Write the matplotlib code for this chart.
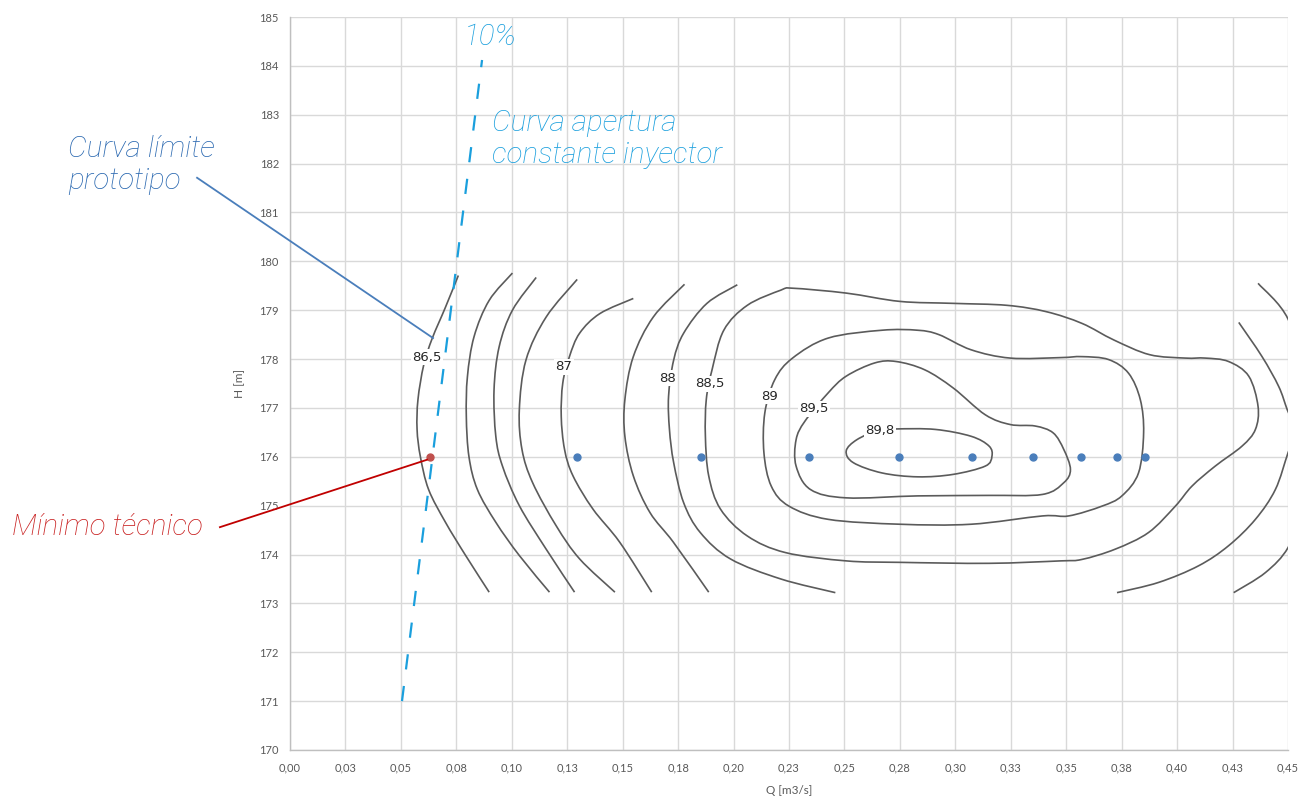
import matplotlib
matplotlib.use("Agg")
import matplotlib.pyplot as plt
from matplotlib.path import Path
from matplotlib.patches import PathPatch
import numpy as np

# ---------------- data ----------------
x_ticks = [0.0, 0.025, 0.05, 0.075, 0.10, 0.125, 0.15, 0.175, 0.20, 0.225, 0.25,
           0.275, 0.30, 0.325, 0.35, 0.375, 0.40, 0.425, 0.45]
x_tick_labels = ["0,00", "0,03", "0,05", "0,08", "0,10", "0,13", "0,15", "0,18", "0,20",
                 "0,23", "0,25", "0,28", "0,30", "0,33", "0,35", "0,38", "0,40", "0,43", "0,45"]
y_ticks = list(range(170, 186))

# measured operating points (H = 176 m)
q_points = [0.1294, 0.1855, 0.2340, 0.2745, 0.3074, 0.3349, 0.3565, 0.3727, 0.3853]
h_points = [176] * len(q_points)
q_min_tec = [0.0631]
h_min_tec = [176]

# constant injector opening curve (10 %)
q_apertura = [0.0505, 0.0866]
h_apertura = [171.0, 184.12]

# efficiency contour lines (Q, H)
c865_q = [0.0759, 0.0700, 0.0641, 0.0603, 0.0577, 0.0573, 0.0588, 0.0625, 0.0701, 0.0792, 0.0898]
c865_h = [179.71, 179.05, 178.42, 177.88, 177.17, 176.56, 176.00, 175.33, 174.66, 173.98, 173.23]

c2_q = [0.1003, 0.0898, 0.0830, 0.0800, 0.0795, 0.0807, 0.0845, 0.0928, 0.1034, 0.1170]
c2_h = [179.76, 179.20, 178.46, 177.64, 176.83, 176.00, 175.33, 174.66, 173.98, 173.23]

c3_q = [0.1110, 0.1003, 0.0943, 0.0920, 0.0928, 0.0958, 0.1034, 0.1155, 0.1283]
c3_h = [179.67, 179.00, 178.25, 177.37, 176.42, 175.81, 175.00, 174.11, 173.23]

c4_q = [0.1295, 0.1155, 0.1064, 0.1034, 0.1046, 0.1094, 0.1200, 0.1306, 0.1465]
c4_h = [179.63, 178.86, 177.98, 176.96, 176.15, 175.47, 174.59, 173.91, 173.23]

c87_q = [0.1548, 0.1397, 0.1306, 0.1260, 0.1230, 0.1223, 0.1238, 0.1276, 0.1366, 0.1487, 0.1631]
c87_h = [179.24, 178.93, 178.53, 178.05, 177.51, 176.83, 176.15, 175.61, 174.93, 174.25, 173.23]

c6_q = [0.1779, 0.1638, 0.1548, 0.1510, 0.1510, 0.1548, 0.1623, 0.1729, 0.1888]
c6_h = [179.53, 178.86, 178.05, 177.17, 176.42, 175.61, 174.86, 174.25, 173.23]

c88_q = [0.2017, 0.1880, 0.1775, 0.1730, 0.1707, 0.1711, 0.1730, 0.1775, 0.1850, 0.1986, 0.2213, 0.2459]
c88_h = [179.52, 179.14, 178.53, 177.98, 177.24, 176.56, 175.88, 175.06, 174.45, 173.91, 173.50, 173.22]

c88r_q = [0.4278, 0.4383, 0.4458, 0.4496, 0.4535, 0.4500, 0.4443, 0.4353, 0.4232, 0.4097, 0.3917, 0.3729]
c88r_h = [178.75, 178.05, 177.44, 176.97, 176.50, 176.08, 175.33, 174.72, 174.18, 173.77, 173.43, 173.22]

c87r_q = [0.4365, 0.4500, 0.4580, 0.4600, 0.4560, 0.4500, 0.4398, 0.4255]
c87r_h = [179.55, 178.82, 177.50, 176.00, 174.90, 174.14, 173.63, 173.22]

c885_q = [0.1903, 0.1956, 0.2062, 0.2213, 0.2266, 0.2508, 0.2750, 0.2990, 0.3232, 0.3410, 0.3571,
          0.3715, 0.3876, 0.4037, 0.4127, 0.4232, 0.4323, 0.4365, 0.4353, 0.4293, 0.4172, 0.4067,
          0.3992, 0.3871, 0.3721, 0.3571, 0.3474, 0.3152, 0.2750, 0.2508, 0.2234, 0.2062, 0.1941,
          0.1888, 0.1873, 0.1877]
c885_h = [177.78, 178.59, 179.10, 179.41, 179.45, 179.35, 179.18, 179.14, 179.10, 178.97, 178.73,
          178.39, 178.09, 178.02, 178.02, 177.95, 177.65, 177.03, 176.56, 176.22, 175.81, 175.40,
          174.99, 174.45, 174.11, 173.90, 173.87, 173.82, 173.84, 173.87, 174.04, 174.38, 174.93,
          175.61, 176.42, 177.17]

c89_q = [0.2186, 0.2266, 0.2427, 0.2669, 0.2830, 0.2926, 0.3071, 0.3248, 0.3474, 0.3571, 0.3691,
         0.3781, 0.3834, 0.3849, 0.3826, 0.3751, 0.3661, 0.3511, 0.3393, 0.3071, 0.2750, 0.2427,
         0.2250, 0.2170, 0.2137, 0.2141]
c89_h = [177.58, 178.02, 178.43, 178.59, 178.59, 178.50, 178.19, 178.02, 178.03, 178.05, 177.99,
         177.71, 177.17, 176.49, 175.67, 175.20, 174.99, 174.79, 174.79, 174.62, 174.62, 174.72,
         174.99, 175.40, 176.08, 176.90]

c895_q = [0.2427, 0.2508, 0.2636, 0.2733, 0.2862, 0.2990, 0.3135, 0.3248, 0.3360, 0.3441, 0.3489,
          0.3519, 0.3489, 0.3393, 0.3152, 0.2830, 0.2508, 0.2347, 0.2282, 0.2282, 0.2322]
c895_h = [177.31, 177.65, 177.92, 177.95, 177.78, 177.41, 176.86, 176.66, 176.63, 176.49, 176.15,
          175.74, 175.47, 175.23, 175.21, 175.20, 175.16, 175.33, 175.81, 176.35, 176.73]

c898_q = [0.2733, 0.2910, 0.3071, 0.3152, 0.3165, 0.3135, 0.2990, 0.2830, 0.2669, 0.2540, 0.2508,
          0.2556, 0.2652]
c898_h = [176.57, 176.56, 176.42, 176.22, 176.01, 175.81, 175.64, 175.59, 175.67, 175.88, 176.12,
          176.35, 176.54]

# contour labels
label_text = ["86,5", "87", "88", "88,5", "89", "89,5", "89,8"]
label_q = [0.0618, 0.1235, 0.1700, 0.1894, 0.2164, 0.2363, 0.2660]
label_h = [178.04, 177.84, 177.61, 177.49, 177.24, 176.98, 176.53]

# ---------------- drawing ----------------
plt.rcParams['lines.scale_dashes'] = False

W, H = 1315, 796
fig = plt.figure(figsize=(W / 100, H / 100), dpi=100)
ax = fig.add_axes([290 / W, 1 - 750 / H, (1288 - 290) / W, (750 - 17) / H])
ax.set_xlim(0, 0.45)
ax.set_ylim(170, 185)

GRID = '#d9d9d9'
TXT = '#595959'
ax.set_xticks(x_ticks)
ax.set_xticklabels(x_tick_labels)
ax.set_yticks(y_ticks)
ax.set_yticklabels([str(v) for v in y_ticks])
ax.tick_params(length=0, labelsize=8, labelcolor=TXT)
ax.tick_params(axis='y', pad=8)
ax.tick_params(axis='x', pad=9)
for lab in ax.get_xticklabels() + ax.get_yticklabels():
    lab.set_family('Lato')
ax.grid(True, color=GRID, lw=1.0)
ax.set_axisbelow(True)
for s in ['top', 'right']:
    ax.spines[s].set_visible(False)
for s in ['left', 'bottom']:
    ax.spines[s].set_color('#bfbfbf')
    ax.spines[s].set_linewidth(1.0)
ax.set_xlabel('Q [m3/s]', fontsize=8.5, color=TXT, family='Lato', labelpad=8)
ax.set_ylabel('H [m]', fontsize=8.5, color=TXT, family='Lato', labelpad=10)


def smooth_path(xs, ys, closed=False):
    pts = np.column_stack([xs, ys]).astype(float)
    n = len(pts)
    if closed:
        P = np.vstack([pts[-1], pts, pts[0], pts[1]])
        segs = n
    else:
        P = np.vstack([pts[0], pts, pts[-1]])
        segs = n - 1
    verts = [P[1]]
    codes = [Path.MOVETO]
    for i in range(1, segs + 1):
        p0, p1, p2, p3 = P[i - 1], P[i], P[i + 1], P[i + 2]
        c1 = p1 + (p2 - p0) / 6.0
        c2 = p2 - (p3 - p1) / 6.0
        verts += [c1, c2, p2]
        codes += [Path.CURVE4] * 3
    return Path(verts, codes)


LINE = '#5b5b5b'
open_lines = [(c865_q, c865_h), (c2_q, c2_h), (c3_q, c3_h), (c4_q, c4_h), (c87_q, c87_h),
              (c6_q, c6_h), (c88_q, c88_h), (c88r_q, c88r_h), (c87r_q, c87r_h)]
closed_lines = [(c885_q, c885_h), (c89_q, c89_h), (c895_q, c895_h), (c898_q, c898_h)]
for q, h in open_lines:
    ax.add_patch(PathPatch(smooth_path(q, h), fill=False, ec=LINE, lw=1.2, zorder=3))
for q, h in closed_lines:
    ax.add_patch(PathPatch(smooth_path(q, h, closed=True), fill=False, ec=LINE, lw=1.2, zorder=3))

for t, q, h in zip(label_text, label_q, label_h):
    ax.text(q, h, t, fontsize=9.5, color='#262626', ha='center', va='center', family='DejaVu Sans',
            zorder=4, bbox=dict(boxstyle='square,pad=0.1', fc='white', ec='none'))

# 10 % opening curve
CYAN = '#1a9fdd'
ax.plot(q_apertura, h_apertura, color=CYAN, lw=1.6, dashes=(11, 12), zorder=5)

# operating points
ax.plot(q_points, h_points, 'o', color='#4a7ebb', ms=5, zorder=6)
ax.plot(q_min_tec, h_min_tec, 'o', color='#c0504d', ms=5, zorder=6)

# annotations
BLUE = '#2a68b0'
RED = '#c81e1e'
ax.plot([-0.0419, 0.0645], [181.71, 178.43], color='#4a7ebb', lw=1.3, clip_on=False, zorder=6)
ax.plot([-0.0316, 0.0618], [174.56, 175.94], color='#c00000', lw=1.3, clip_on=False, zorder=6)

FS = 21.3
FAM = 'Roboto'
WT = 'light'
ax.text(-0.1001, 181.97, 'Curva límite\nprototipo', fontsize=FS, color=BLUE, style='italic',
        family=FAM, weight=WT, ha='left', va='center', linespacing=1.2)
ax.text(-0.1254, 174.56, 'Mínimo técnico', fontsize=FS, color=RED, style='italic',
        family=FAM, weight=WT, ha='left', va='center')
ax.text(0.0902, 184.59, '10%', fontsize=FS, color=CYAN, style='italic',
        family=FAM, weight=WT, ha='center', va='center')
ax.text(0.0911, 182.50, 'Curva apertura\nconstante inyector', fontsize=FS, color=CYAN,
        style='italic', family=FAM, weight=WT, ha='left', va='center', linespacing=1.2)

fig.savefig('out.png', dpi=100)
